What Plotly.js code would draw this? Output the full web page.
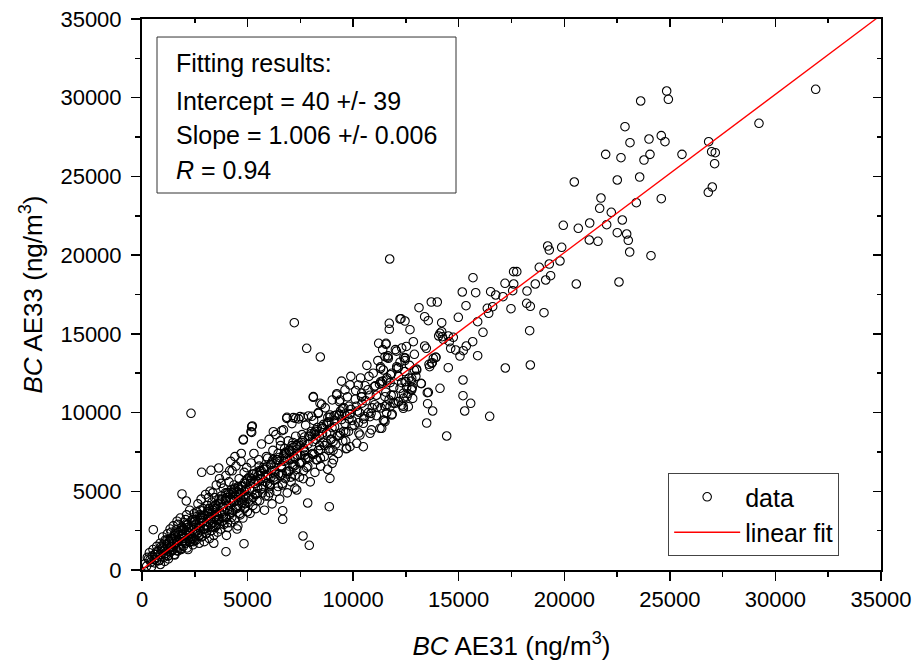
<!DOCTYPE html>
<html>
<head>
<meta charset="utf-8">
<script src="https://cdn.plot.ly/plotly-3.0.1.min.js"></script>
<style>html,body{margin:0;padding:0;background:#fff;}#chart{width:916px;height:661px;}</style>
</head>
<body>
<div id="chart"></div>
<script>
// ---- Data (AE31 on x, AE33 on y, ng/m3) ----
const ae31_low = [
 150,220,300,350,420,480,520,580,640,700,
 730,780,820,860,900,950,980,1020,1060,1100,
 1130,1160,1200,1230,1260,1300,1330,1360,1400,1420,
 1450,1480,1510,1540,1570,1600,1630,1660,1690,1720,
 1750,1780,1810,1840,1870,1900,1930,1960,1990,2020,
 2050,2080,2110,2140,2170,2200,2230,2260,2290,2320,
 2350,2380,2410,2440,2470,2500,250,450,600,870,
 1080,1250,1380,1550,1700,1820,1950,2070,2180,2420,
 380,680,910,1180,1470,1620,1880,2120,2340,2480,
 535,1894,2098,3978,4831];
const ae33_low = [
 400,250,700,1100,500,900,1300,650,1000,1500,
 800,1200,600,1700,1000,1400,2100,800,1250,1900,
 1050,1600,2300,900,1350,1800,2600,1150,1500,2000,
 1250,2800,1700,1000,2200,1400,1900,3100,1200,2400,
 1600,2000,3300,1350,2700,1800,2300,1500,3000,2100,
 1700,2500,3500,1400,2900,2000,2350,3800,1800,2650,
 2150,3200,1600,2800,3600,2400,800,200,450,350,
 550,700,2400,950,2900,2500,2650,3200,1300,2000,
 650,1150,1500,1900,2000,2550,2100,2850,3050,1900,
 2560,4828,4383,1162,1671];

const ae31_b = [
 2530,2560,2590,2620,2650,2680,2710,2740,2770,2800,
 2830,2860,2890,2920,2950,2980,3010,3040,3070,3100,
 3130,3160,3190,3220,3250,3280,3310,3340,3370,3400,
 3430,3460,3490,3520,3550,3580,3610,3640,3670,3700,
 3730,3760,3790,3820,3850,3880,3910,3940,3970,4000,
 4030,4060,4090,4120,4150,4180,4210,4240,4270,4300,
 4330,4360,4390,4420,4450,4480,4510,4540,4570,4600,
 4630,4660,4690,4720,4750,4780,4810,4840,4870,4900,
 4930,4960,4990,2600,2900,3150,3450,3750,4050,4350,
 2750,3050,3350,3650,3950,4250,4550,4850,3550,4150,
 3632,3268,2827,4400,4700,4200,4000,4500,3400];
const ae33_b = [
 2900,1900,3700,2300,4200,2700,1700,3300,2500,4500,
 2100,3000,3900,2600,1800,3500,4800,2300,3100,4100,
 2700,3700,2000,5000,3300,2500,4300,3000,3800,2200,
 4600,3400,2800,5400,3900,2400,4200,3200,5800,3600,
 2600,4700,3100,4000,5200,2900,3700,4400,6000,3300,
 4900,2700,4100,5600,3500,4500,3000,5100,6300,3800,
 4300,5400,3200,4700,6600,3900,5000,2800,4400,5800,
 3600,4900,6900,4200,5300,3300,4600,6200,5600,4000,
 5100,6500,3700,3400,3300,4600,3900,5500,3800,5000,
 3800,2800,4900,4500,4900,4400,5300,5000,2900,6300,
 6479,6333,6206,7200,7400,6900,2200,2600,1700];

const ae31_c = [
 5030,5080,5120,5170,5210,5260,5300,5350,5390,5440,
 5480,5530,5570,5620,5660,5710,5750,5800,5840,5890,
 5930,5980,6020,6070,6110,6160,6200,6250,6290,6340,
 6380,6430,6470,6520,6560,6610,6650,6700,6740,6790,
 6830,6880,6920,6970,7010,7060,7100,7150,7190,7240,
 7280,7330,7370,7420,7460,7490,5150,5550,5950,6350,
 6750,7150,5250,5650,6050,6450,6850,7250,5400,6550,
 5224,5162,4798,6663,6663,6867,7279,4799,5194,5194,6220,6614];
const ae33_c = [
 4300,5900,3600,6800,5000,4600,7400,5500,3900,6200,
 5200,7000,4400,5800,8000,4900,6500,3800,5600,7200,
 6000,4700,8300,5400,6700,4200,7600,5900,6300,8600,
 5000,7000,6100,4500,7900,6500,5400,8900,6900,5800,
 7400,4900,8200,6300,7000,5600,9300,6700,7800,5200,
 8500,6400,7300,9600,5900,7900,5500,6600,7100,6800,
 7700,8100,6100,6300,5300,7400,6100,7100,4800,8200,
 9147,8785,8302,3767,3220,9700,9636,8258,9104,8742,8785,8848];

const ae31_d = [
 7530,7580,7640,7690,7750,7800,7860,7910,7970,8020,
 8080,8130,8190,8240,8300,8350,8410,8460,8520,8570,
 8630,8680,8740,8790,8850,8900,8960,9010,9070,9120,
 9180,9230,9290,9340,9400,9450,9510,9560,9620,9670,
 9730,9780,9840,9890,9950,7700,8250,8800,9350,9900,
 7639,8037,8113,8511,7625,7923,7848,8871,7213,7800,
 8445,2321,6853,7169,7485,7880,8114,8430,8351,8903,
 9219,9377,9614,9851,10245,10403,8900,9008,9693,7327];
const ae33_d = [
 6800,8600,5800,7600,9200,6500,8000,7100,5600,8800,
 7400,9500,6200,8300,7000,10000,7900,6600,9000,8100,
 7200,10300,8700,6400,9400,7700,8300,10800,7000,9100,
 8000,11200,7400,9800,8700,12000,8200,10300,9300,7700,
 11000,8800,9900,12300,9500,7300,8900,9700,10700,10200,
 9700,9763,10970,10525,2160,1569,4256,4021,15709,14082,
 13530,9953,9634,9676,9740,9782,11010,10588,9952,9846,
 11116,10800,11435,11753,11753,11223,5822,6776,7730,5082];

const ae31_e = [
 10050,10120,10200,10270,10350,10420,10500,10570,10650,10720,
 10800,10870,10950,11020,11100,11170,11250,11320,11400,11470,
 11550,11620,11700,11770,11850,11920,12000,12070,12150,12220,
 12300,12370,12450,12520,12600,12670,12750,12820,12900,12970,
 10400,10900,11300,11800,12400,10150,10750,11600,12850,11050,
 11731,11712,11712,12219,11210,11556,12266,12456,12692,12470,12996,12774,13229,
 11300,11400,11500,11650,11750,11900,12050,12150,12300,12450,12550,12650,12800,12900,
 12503,12535,12771,12377,12140,12613,12298,11745,11589,11430,11352,10798,10798,10481,10324,10168,9851,10481,
 11556,11508,11666,12063,11430,11825,11589,11352,12219,12456,12377,11904,11508,11982,12377,11589,11825,11508,11272];
const ae33_e = [
 9200,11400,10100,8700,12200,10600,9600,11700,13000,10000,
 11100,8900,12500,10500,9800,13300,11800,10300,12000,9500,
 11300,13500,10800,12400,9900,11600,14000,12800,10700,13200,
 11900,10400,12600,14200,11200,13000,12000,10900,13700,12300,
 11000,10300,12800,11100,13500,10400,12300,12200,14500,11700,
 19755,15670,15289,15943,14400,14336,15963,15816,15264,13466,12768,11497,11834,
 12900,14000,10400,13600,11900,10600,13900,12300,14100,13300,11000,12200,11600,12700,
 11961,11605,11434,10906,10690,10373,10480,10373,9992,9528,9001,9738,8683,9318,8575,8048,7832,7832,
 14400,13550,13447,12914,12704,12494,12069,11859,11541,11961,11224,11116,11008,10588,10271,10480,9846,9420,9001];

const ae31_f = [
 13701,13985,13119,13388,13557,14194,14194,14052,14270,14506,
 14743,13388,13466,13909,13747,13624,14506,14113,13561,13528,
 13766,13483,14430,14620,14856,15060,14554,14113,14222,13797,
 13924,13592,13718,13213,13512,13012,12775,12456,12140];
const ae33_f = [
 17023,17023,16662,16090,15836,15709,15137,14864,14654,14864,
 14781,14228,14082,13510,13167,12913,12850,11541,11287,10563,
 10100,9337,8512,14082,13974,13593,14502,15035,14820,13447,
 13510,13066,13129,11859,11262,12704,12177,13447,12850];

const ae31_g = [
 15661,15358,15216,15898,15203,15203,15567,15283,16466,14981,
 15898,16150,18360,17207,18392,15676,15169,15345,15804,16514,
 16751,16609,16354,16420,17097,17476,17557,17192,17604,18234,
 18627,18218,18392,19039,19120,19353,18816,19290,17600,17750,
 19214,19290];
const ae33_g = [
 14502,14228,13930,13612,12069,11072,10588,10100,9763,16052,
 15772,15099,15200,12831,13022,18567,17659,16788,17614,17678,
 17468,16725,16623,16306,17360,16598,17741,18211,18167,17722,
 18167,16941,16750,16344,18421,18694,19227,19437,18950,18950,
 20580,20326];

const ae31_h = [
 31906,29221,24849,24929,23618,22875,23112,24012,24594,24769,
 26838,26980,27151,27120,27009,26820,25574,24059,23775,22685,
 21960,22510,23570,20474,21738,21676,22226,23411,24594,22748,
 22008,21203,20663,19953,22510,22955,23031,21184,21596,19877,
 23097,24106,19796,20569,22591];
const ae33_h = [
 30534,28374,30426,29899,29791,28160,27143,27377,27589,27207,
 27207,26572,26508,25808,24328,23991,26404,26404,26043,26190,
 26404,24773,24963,24646,23629,22975,22720,23331,23586,22232,
 21935,22041,21704,21895,21426,21343,20942,20962,20879,20498,
 20199,19964,19628,18167,18294];

const ae31_core = [
 600,800,1000,1150,1300,1450,1600,1750,1900,2050,
 2200,2350,2500,2650,2800,2950,3100,3250,3400,3550,
 3700,3850,4000,4150,4300,4450,4600,4750,4900,5050,
 5200,5350,5500,5650,5800,5950,6100,6250,6400,6550,
 6700,6850,7000,7150,7300,7450,7600,7750,7900,8050,
 8200,8350,8500,8650,8800,8950,9100,9250,9400,9550,
 1200,1900,2600,3300,4000,4700,5400,6100,6800,7500,8200,8900,9600,10300,
 700,1400,2100,2800,3500,4200,4900,5600,6300,7000,7700,8400,9100,9800];
const ae33_core = [
 980,600,1400,950,1700,1300,2100,1450,2500,1850,
 2700,2000,3100,2350,3300,2600,3700,2900,4000,3150,
 4300,3350,4600,3750,4900,4000,5100,4300,5500,4650,
 5800,4800,6000,5150,6400,5500,6700,5700,7000,6000,
 7300,6250,7600,6550,7900,6800,8200,7100,8500,7350,
 8800,7600,9100,7900,9400,8300,9800,8500,10100,8800,
 1500,2250,2500,3600,4400,4500,5700,5900,7100,7300,8600,8700,9900,10000,
 600,1250,2450,3150,3350,4800,4650,6000,6100,7500,7500,8500,9500,9600];

const ae31_core2 = [
 2300,2450,2700,2850,3000,3200,3350,3500,3650,3800,
 3950,4100,4250,4400,4550,4700,4850,5000,5150,5300,
 5450,5600,5750,5900,6050,6200,6350,6500,6650,6800,
 6950,7100,7250,7400,7550,7700,7850,8000,8150,8300,
 8450,8600,8750,8900,9050,9200,9350,9500,9650,9800,
 9950,10100,10250,10400,10550,10700,10850,11000,11150,11300,
 1100,1350,1650,2000,2400,2750,3150,3550,3850,4350,
 4650,5100,5500,5850,6150,6600,6900,7200,7650,8100,
 8550,9000,9450,9850,10600,11100];
const ae33_core2 = [
 1950,3050,2150,3450,2600,3900,2750,4150,3250,4450,
 3350,4900,3650,5200,4100,5350,4250,5800,4450,6100,
 4850,6250,5300,6550,5450,7000,5750,7150,6100,7450,
 6250,7900,6650,8000,6850,8450,7150,8650,7350,9050,
 7650,9250,8050,9700,8150,9850,8550,10250,8750,10400,
 9150,10850,9350,11000,9750,11450,9950,11650,10350,11950,
 1300,1450,1750,2000,2550,2750,3300,3550,4000,4350,
 4800,5100,5600,5900,6300,6600,7050,7200,7750,8150,
 8700,9050,9550,9900,10750,11100];

const ae31_core3 = [
 1050,1250,1550,1850,2150,2450,2750,3050,3350,3650,
 3950,4250,4550,4850,5150,5450,5750,6050,6350,6650,
 6950,7250,7550,7850,8150,8450,8750,9050,9350,9650,
 1350,1650,1950,2250,2550,2850,3150,3450,3750,4050,
 4350,4650,4950,5250,5550,5850,6150,6450,6750,7050,
 7350,7650,7950,8250,8550,8850];
const ae33_core3 = [
 1700,900,2300,1300,2900,1800,3500,2350,4000,2900,
 4500,3350,5200,3900,5700,4400,6400,4900,7000,5500,
 7600,6000,8100,6600,8700,7100,9300,7600,9900,8200,
 2000,1250,2600,1750,3200,2150,3900,2700,4500,3000,
 5100,3500,5700,4100,6300,4700,6800,5300,7400,5900,
 7900,6300,8500,7000,9000,7600];

// Fit results (as printed in the chart)
const fitIntercept = 40;
const fitSlope = 1.006;
const fitXRange = [0, 35000];
const fitText = ['Fitting results:', 'Intercept = 40 +/- 39', 'Slope = 1.006 +/- 0.006', '<i>R</i> = 0.94'];

const axisTicks = [0, 5000, 10000, 15000, 20000, 25000, 30000, 35000];

// ---- Build ----
const ae31 = [].concat(ae31_low, ae31_b, ae31_c, ae31_d, ae31_e, ae31_f, ae31_g, ae31_h, ae31_core, ae31_core2, ae31_core3);
const ae33 = [].concat(ae33_low, ae33_b, ae33_c, ae33_d, ae33_e, ae33_f, ae33_g, ae33_h, ae33_core, ae33_core2, ae33_core3);

const FONT = 'Liberation Sans, Arial, Helvetica, sans-serif';

const dataTrace = {
  x: ae31, y: ae33, type: 'scatter', mode: 'markers', name: 'data',
  marker: {symbol: 'circle-open', size: 8.5, color: 'black', line: {width: 1.1, color: 'black'}},
  hoverinfo: 'skip'
};
const fitTrace = {
  x: fitXRange, y: fitXRange.map(v => fitIntercept + fitSlope * v),
  type: 'scatter', mode: 'lines', name: 'linear fit',
  line: {color: 'red', width: 1.3}, hoverinfo: 'skip'
};
const dummy = {x: [null], y: [null], xaxis: 'x2', yaxis: 'y2', type: 'scatter', mode: 'markers', showlegend: false, hoverinfo: 'skip'};

const baseAxis = {
  range: [0, 35000], tickvals: axisTicks, ticktext: axisTicks.map(String),
  showline: true, linewidth: 2, linecolor: 'black', showgrid: false, zeroline: false,
  tickcolor: 'black', tickwidth: 1.5, fixedrange: true
};

const layout = {
  width: 916, height: 661,
  margin: {l: 142, r: 35, t: 19, b: 91, pad: 0},
  paper_bgcolor: 'white', plot_bgcolor: 'white',
  font: {family: FONT, color: 'black'},
  showlegend: true,
  legend: {x: 0.712, y: 0.176, xanchor: 'left', yanchor: 'top', bordercolor: '#444', borderwidth: 1,
           bgcolor: 'white', font: {size: 25, family: FONT}, itemwidth: 66, tracegroupgap: 0},
  xaxis: Object.assign({}, baseAxis, {
    ticks: 'outside', ticklen: 9,
    minor: {dtick: 2500, tick0: 0, ticks: 'outside', ticklen: 5, tickwidth: 1.5, tickcolor: 'black'},
    tickfont: {size: 22, family: FONT},
    title: {text: '<i>BC</i> AE31 (ng/m<sup>3</sup>)', font: {size: 26, family: FONT}}
  }),
  yaxis: Object.assign({}, baseAxis, {
    ticks: 'outside', ticklen: 9, ticklabelstandoff: 5,
    minor: {dtick: 2500, tick0: 0, ticks: 'outside', ticklen: 5, tickwidth: 1.5, tickcolor: 'black'},
    tickfont: {size: 22, family: FONT}, automargin: 'left',
    title: {text: '<i>BC</i> AE33 (ng/m<sup>3</sup>)', font: {size: 26, family: FONT}, standoff: 10}
  }),
  xaxis2: Object.assign({}, baseAxis, {
    overlaying: 'x', side: 'top', anchor: 'y', ticks: 'inside', ticklen: 8, showticklabels: false,
    minor: {dtick: 2500, tick0: 0, ticks: 'inside', ticklen: 4, tickwidth: 1.5, tickcolor: 'black'}
  }),
  yaxis2: Object.assign({}, baseAxis, {
    overlaying: 'y', side: 'right', anchor: 'x', ticks: 'inside', ticklen: 8, showticklabels: false,
    minor: {dtick: 2500, tick0: 0, ticks: 'inside', ticklen: 4, tickwidth: 1.5, tickcolor: 'black'}
  }),
  shapes: [{type: 'rect', xref: 'paper', yref: 'paper', x0: 0.0203, x1: 0.4249, y0: 0.6842, y1: 0.9673,
            line: {color: '#333', width: 1}, fillcolor: 'rgba(0,0,0,0)'}],
  annotations: fitText.map((t, i) => ({
    text: t, xref: 'paper', yref: 'paper', x: 0.0433, y: [0.9201, 0.8512, 0.7895, 0.7260][i],
    xanchor: 'left', yanchor: 'middle', showarrow: false, align: 'left',
    font: {size: 25, family: FONT, color: 'black'}
  }))
};

Plotly.newPlot('chart', [dataTrace, fitTrace, dummy], layout, {displayModeBar: false, staticPlot: true});
</script>
</body>
</html>
